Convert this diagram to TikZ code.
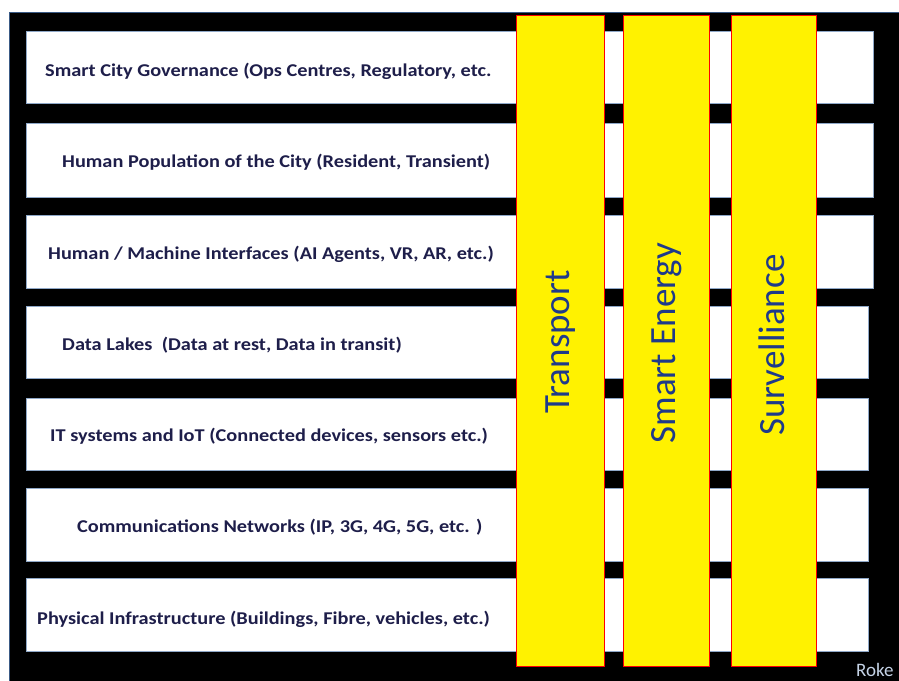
\documentclass[tikz,border=0pt]{standalone}
\usepackage{fontspec}
\setmainfont{Carlito}
\newfontfamily\rowfont[FakeStretch=1.13]{Carlito}
\definecolor{rowtext}{HTML}{1E1E4A}
\definecolor{bartext}{HTML}{1F3A8A}
\definecolor{rowedge}{HTML}{8FA8C8}
\definecolor{frameedge}{HTML}{3A5A85}
\definecolor{roke}{HTML}{C5D3E6}
\tikzset{
  rowbox/.style={draw=rowedge, line width=1pt, fill=white, anchor=north west, inner sep=0pt, minimum height=72pt},
  rowlabel/.style={anchor=base west, inner sep=0pt, text=rowtext, font=\rowfont\fontsize{18}{21}\selectfont\bfseries},
  barbox/.style={draw=red, line width=1.2pt, fill=yellow, anchor=north west, inner sep=0pt, minimum height=651pt},
  barlabel/.style={rotate=90, inner sep=0pt, text=bartext, font=\fontsize{37}{42}\selectfont}
}
\begin{document}
\begin{tikzpicture}[x=1pt,y=-1pt]
\useasboundingbox (0,0) rectangle (899,680);
\clip (0,0) rectangle (899,680);
\fill[white] (0,0) rectangle (899,680);
\node[draw=frameedge, line width=0.6pt, fill=black, anchor=north west, inner sep=0pt, minimum width=900pt, minimum height=675pt] (frame) at (9,12) {};
% rows
\node[rowbox, minimum width=847pt] (r1) at (26,31) {};
\node[rowbox, minimum width=847pt, minimum height=74pt] (r2) at (26,123) {};
\node[rowbox, minimum width=847pt, minimum height=73pt] (r3) at (26,215) {};
\node[rowbox, minimum width=842pt] (r4) at (26,306) {};
\node[rowbox, minimum width=842pt] (r5) at (26,398) {};
\node[rowbox, minimum width=842pt, minimum height=73pt] (r6) at (26,488) {};
\node[rowbox, minimum width=842pt, minimum height=73pt] (r7) at (26,578) {};
% row labels
\node[rowlabel] (t1) at (45,76) {Smart City Governance (Ops Centres, Regulatory, etc.};
\node[rowlabel] (t2) at (62,167) {Human Population of the City (Resident, Transient)};
\node[rowlabel] (t3) at (48,259) {Human / Machine Interfaces (AI Agents, VR, AR, etc.)};
\node[rowlabel] (t4) at (62,350) {Data Lakes\ \ (Data at rest, Data in transit)};
\node[rowlabel] (t5) at (50,441) {IT systems and IoT (Connected devices, sensors etc.)};
\node[rowlabel] (t6) at (77,532) {Communications Networks (IP, 3G, 4G, 5G, etc. )};
\node[rowlabel] (t7) at (37,624) {Physical Infrastructure (Buildings, Fibre, vehicles, etc.)};
% vertical bars
\node[barbox, minimum width=88pt] (b1) at (516,15) {};
\node[barbox, minimum width=86pt] (b2) at (623,15) {};
\node[barbox, minimum width=85pt] (b3) at (731,15) {};
\node[barlabel] (l1) at ([yshift=-1pt]b1.center) {Transport};
\node[barlabel] (l2) at ([yshift=-2pt]b2.center) {Smart Energy};
\node[barlabel] (l3) at ([xshift=-2pt,yshift=-4pt]b3.center) {Survelliance};
% credit
\node[anchor=base west, inner sep=0pt, text=roke, font=\fontsize{19}{22}\selectfont] (roke) at (856,676) {Roke};
\end{tikzpicture}
\end{document}
